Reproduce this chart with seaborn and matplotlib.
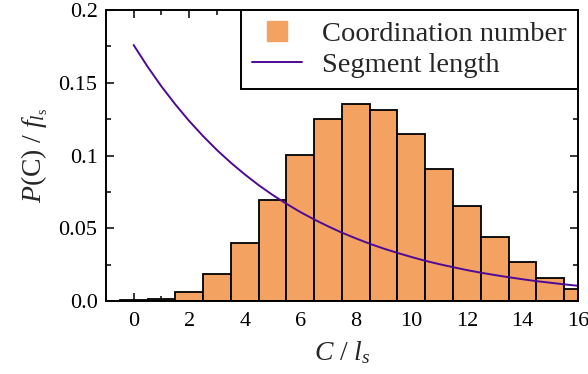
import numpy as np
import pandas as pd
import matplotlib
matplotlib.use("Agg")
import matplotlib.pyplot as plt
import seaborn as sns
from matplotlib.ticker import MultipleLocator, FixedLocator, FixedFormatter
from matplotlib.lines import Line2D

# Data
coord_numbers = list(range(0, 17))
coord_probs = [0.0005, 0.0016, 0.0064, 0.0183, 0.0396, 0.0694, 0.1003, 0.1249,
               0.1356, 0.1313, 0.1145, 0.0905, 0.0655, 0.0440, 0.0270, 0.0160, 0.0085]
seg_x = [0, 0.5, 1, 1.5, 2, 2.5, 3, 3.5, 4, 4.5, 5, 5.5, 6, 6.5, 7, 7.5, 8,
         8.5, 9, 9.5, 10, 10.5, 11, 11.5, 12, 12.5, 13, 13.5, 14, 14.5, 15, 15.5, 16]
seg_y = [0.1760, 0.1612, 0.1476, 0.1352, 0.1238, 0.1134, 0.1038, 0.0951, 0.0871,
         0.0797, 0.0730, 0.0669, 0.0612, 0.0561, 0.0514, 0.0470, 0.0431, 0.0394,
         0.0361, 0.0331, 0.0303, 0.0277, 0.0254, 0.0233, 0.0213, 0.0195, 0.0179,
         0.0164, 0.0150, 0.0137, 0.0126, 0.0115, 0.0105]
ytick_vals = [0.0, 0.05, 0.1, 0.15, 0.2]
ytick_labels = ["0.0", "0.05", "0.1", "0.15", "0.2"]
xtick_vals = [0, 2, 4, 6, 8, 10, 12, 14, 16]
legend_labels = ["Coordination number", "Segment length"]

sns.set_theme(style="ticks")
plt.rcParams['font.family'] = ['Liberation Serif']
plt.rcParams['mathtext.fontset'] = 'custom'
plt.rcParams['mathtext.rm'] = 'Liberation Serif'
plt.rcParams['mathtext.it'] = 'Liberation Serif:italic'

bar_color = "#F4A261"
line_color = "#4E0A96"

fig = plt.figure(figsize=(5.88, 3.74), dpi=100)
ax = fig.add_axes([0.180, 0.195, 0.803, 0.778])

df_bars = pd.DataFrame({"C": coord_numbers, "P": coord_probs})
df_line = pd.DataFrame({"x": seg_x, "y": seg_y})

sns.histplot(data=df_bars, x="C", weights="P", discrete=True, stat="count",
             color=bar_color, alpha=1.0, edgecolor="black", linewidth=1.3,
             ax=ax, label="_nolegend_")
sns.lineplot(data=df_line, x="x", y="y", color=line_color, linewidth=1.4, ax=ax,
             label="_nolegend_")

ax.set_xlim(-1, 16)
ax.set_ylim(0, 0.2)
ax.xaxis.set_major_locator(FixedLocator(xtick_vals))
ax.xaxis.set_minor_locator(MultipleLocator(1))
ax.yaxis.set_major_locator(FixedLocator(ytick_vals))
ax.yaxis.set_major_formatter(FixedFormatter(ytick_labels))
ax.yaxis.set_minor_locator(MultipleLocator(0.025))
ax.tick_params(which="both", direction="in", top=True, right=True, colors="black",
               labelsize=16, width=1.1)
ax.tick_params(axis="x", pad=8)
ax.tick_params(axis="y", pad=6)
ax.tick_params(which="major", length=6)
ax.tick_params(which="minor", length=3.5)
for s in ax.spines.values():
    s.set_linewidth(1.4)
    s.set_color("black")

ax.set_xlabel(r"$C\ /\ l_s$", fontsize=20, labelpad=6)
ax.set_ylabel(r"$P(\mathrm{C})\ /\ f_{l_\mathrm{s}}$", fontsize=20, labelpad=6)

handles = [Line2D([], [], marker="s", markersize=15, linestyle="none",
                  markerfacecolor=bar_color, markeredgecolor=bar_color),
           Line2D([0], [0], color=line_color, linewidth=1.4)]
leg = ax.legend(handles, legend_labels, loc="upper right",
                fontsize=20.5, frameon=True, fancybox=False, framealpha=1.0,
                edgecolor="black", borderaxespad=0.0, handlelength=1.75,
                handletextpad=0.7, borderpad=0.4, labelspacing=0.15)
leg.get_frame().set_linewidth(1.4)

fig.savefig("out.png", dpi=100)
